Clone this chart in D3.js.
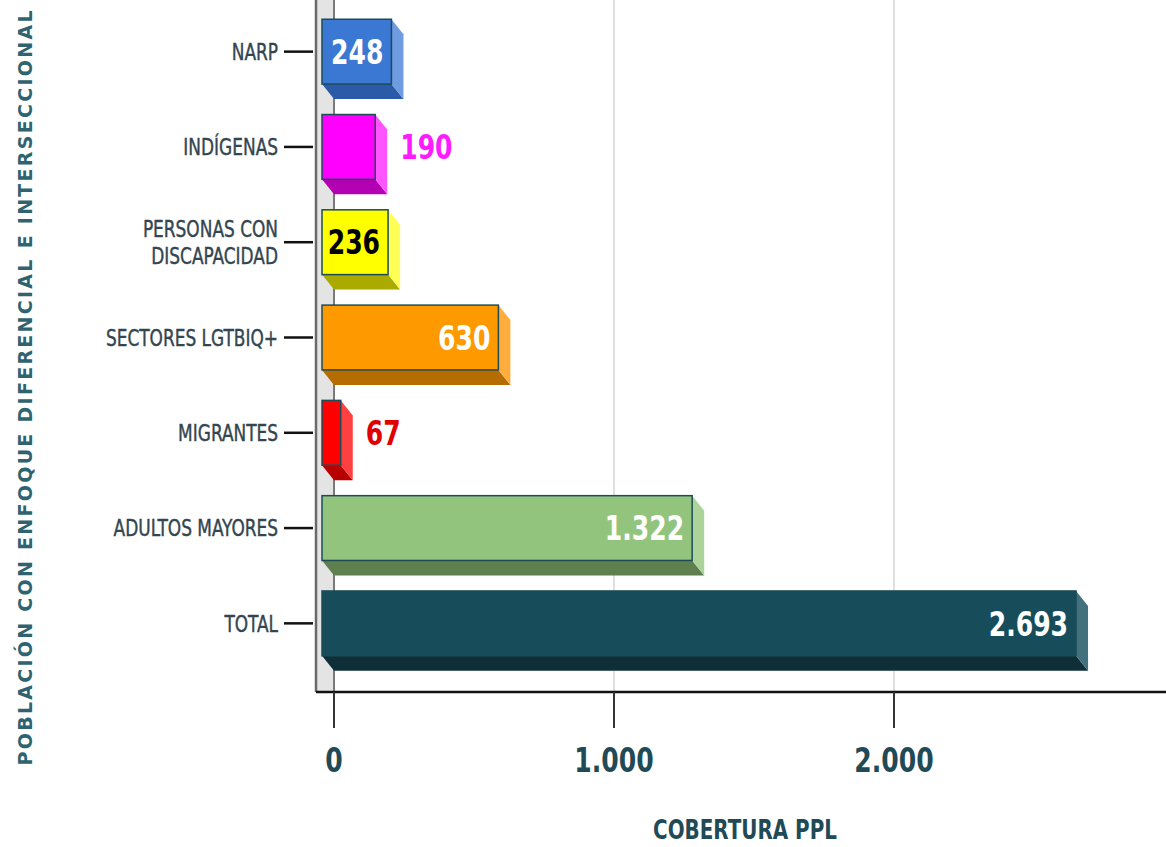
<!DOCTYPE html>
<html>
<head>
<meta charset="utf-8">
<script src="https://cdn.jsdelivr.net/npm/d3@7"></script>
<style>
	body { margin: 0; background: #fff; }
	text { font-family: "Liberation Sans Narrow", "Arial Narrow", "DejaVu Sans Condensed", sans-serif; }
</style>
</head>
<body>
<div id="container"></div>
<script>
// 1. Data
const categories = ["NARP", "INDÍGENAS", "PERSONAS CON\nDISCAPACIDAD", "SECTORES LGTBIQ+", "MIGRANTES", "ADULTOS MAYORES", "TOTAL"]
const values = [248, 190, 236, 630, 67, 1322, 2693]
const valueLabels = ["248", "190", "236", "630", "67", "1.322", "2.693"]
const labelInside = [true, false, true, true, false, true, true]
const frontColors = ["#3b78d3", "#ff00ff", "#ffff00", "#ff9900", "#ff0000", "#93c47d", "#174d5b"]
const sideColors = ["#6f9ce0", "#ff55ff", "#ffff55", "#ffae3d", "#ff4040", "#acd49a", "#42707c"]
const bottomColors = ["#2b5ba8", "#b300b3", "#aaaa00", "#b56c00", "#b80000", "#5f7f4f", "#0f2f38"]
const labelColors = ["#ffffff", "#ff1aff", "#000000", "#ffffff", "#e00000", "#ffffff", "#ffffff"]
const tickValues = [0, 1000, 2000, 3000]
const tickLabels = ["0", "1.000", "2.000"]

// 2. Dimensions
const width = 1166
const height = 847
const depth = { dx: 12, dy: 15 }
const plot = { left: 316, right: 1166, top: 0, bottom: 692 }
const squeeze = 0.82 // condensed look of the original font

const svg = d3.select("#container")
	.append("svg")
	.attr("width", width)
	.attr("height", height)

// 3. Scales
const x = d3.scaleLinear()
	.domain([0, 3000])
	.range([322, 1162])

const y = d3.scaleBand()
	.domain(categories)
	.range([4, 671])
	.paddingInner(0.32)
	.paddingOuter(0.16)

const at = (px, py) => `translate(${px},${py}) scale(${squeeze},1)`

// 4. Back wall + grid
svg.append("rect")
	.attr("x", plot.left)
	.attr("y", plot.top)
	.attr("width", x(0) + depth.dx - plot.left)
	.attr("height", plot.bottom - plot.top)
	.attr("fill", "#e4e4e4")

svg.selectAll(".grid")
	.data(tickValues)
	.join("line")
	.attr("class", "grid")
	.attr("x1", d => x(d) + depth.dx)
	.attr("x2", d => x(d) + depth.dx)
	.attr("y1", plot.top)
	.attr("y2", plot.bottom)
	.attr("stroke", d => d === 0 ? "#7a7a7a" : "#d4d4d4")
	.attr("stroke-width", d => d === 0 ? 2 : 1.5)

// 5. Bars
const bars = svg.selectAll(".bar")
	.data(values)
	.join("g")
	.attr("class", "bar")

bars.append("polygon")
	.attr("points", (d, i) => {
		const x0 = x(0), x1 = x(d), yb = y(categories[i]) + y.bandwidth()
		return [[x0, yb], [x1, yb], [x1 + depth.dx, yb + depth.dy], [x0 + depth.dx, yb + depth.dy]].join(" ")
	})
	.attr("fill", (d, i) => bottomColors[i])

bars.append("polygon")
	.attr("points", (d, i) => {
		const x1 = x(d), yt = y(categories[i]), yb = yt + y.bandwidth()
		return [[x1, yt], [x1 + depth.dx, yt + depth.dy], [x1 + depth.dx, yb + depth.dy], [x1, yb]].join(" ")
	})
	.attr("fill", (d, i) => sideColors[i])

bars.append("rect")
	.attr("x", x(0))
	.attr("y", (d, i) => y(categories[i]))
	.attr("width", d => x(d) - x(0))
	.attr("height", y.bandwidth())
	.attr("fill", (d, i) => frontColors[i])
	.attr("stroke", "#1d4b57")
	.attr("stroke-width", 1.5)

bars.append("text")
	.attr("transform", (d, i) => at(
		labelInside[i] ? x(d) - 8 : x(d) + 25,
		y(categories[i]) + y.bandwidth() / 2))
	.attr("dy", "0.36em")
	.attr("text-anchor", (d, i) => labelInside[i] ? "end" : "start")
	.attr("font-size", 34)
	.attr("font-weight", "bold")
	.attr("fill", (d, i) => labelColors[i])
	.text((d, i) => valueLabels[i])

// 6. Axes
svg.append("line")
	.attr("x1", plot.left)
	.attr("x2", plot.left)
	.attr("y1", plot.top)
	.attr("y2", plot.bottom)
	.attr("stroke", "#6a6a6a")
	.attr("stroke-width", 2.5)

svg.append("line")
	.attr("x1", plot.left)
	.attr("x2", plot.right)
	.attr("y1", plot.bottom)
	.attr("y2", plot.bottom)
	.attr("stroke", "#111")
	.attr("stroke-width", 2.5)

svg.selectAll(".xtick")
	.data(tickValues)
	.join("line")
	.attr("class", "xtick")
	.attr("x1", d => x(d) + depth.dx)
	.attr("x2", d => x(d) + depth.dx)
	.attr("y1", plot.bottom)
	.attr("y2", plot.bottom + 36)
	.attr("stroke", "#333")
	.attr("stroke-width", 2)

svg.selectAll(".xlabel")
	.data(tickLabels)
	.join("text")
	.attr("class", "xlabel")
	.attr("transform", (d, i) => at(x(tickValues[i]) + depth.dx, 760))
	.attr("dy", "0.36em")
	.attr("text-anchor", "middle")
	.attr("font-size", 34)
	.attr("font-weight", "bold")
	.attr("fill", "#1f4a56")
	.text(d => d)

svg.selectAll(".ytick")
	.data(categories)
	.join("line")
	.attr("class", "ytick")
	.attr("x1", 284)
	.attr("x2", plot.left - 3)
	.attr("y1", d => y(d) + y.bandwidth() / 2)
	.attr("y2", d => y(d) + y.bandwidth() / 2)
	.attr("stroke", "#111")
	.attr("stroke-width", 2.5)

const ylabels = svg.selectAll(".ylabel")
	.data(categories)
	.join("text")
	.attr("class", "ylabel")
	.attr("transform", d => at(278, y(d) + y.bandwidth() / 2))
	.attr("text-anchor", "end")
	.attr("font-size", 23)
	.attr("fill", "#33464f")
	.attr("stroke", "#33464f")
	.attr("stroke-width", 0.4)

ylabels.each(function (d) {
	const lines = d.split("\n")
	d3.select(this).selectAll("tspan")
		.data(lines)
		.join("tspan")
		.attr("x", 0)
		.attr("y", (l, j) => (j - (lines.length - 1) / 2) * 27)
		.attr("dy", "0.36em")
		.text(l => l)
})

// Axis titles
svg.append("text")
	.attr("transform", "translate(32,388) rotate(-90)")
	.attr("text-anchor", "middle")
	.style("font-family", "'DejaVu Sans', sans-serif")
	.attr("font-size", 19)
	.attr("font-weight", "bold")
	.attr("textLength", 755)
	.attr("lengthAdjust", "spacing")
	.attr("fill", "#2f6370")
	.text("POBLACIÓN CON ENFOQUE DIFERENCIAL E INTERSECCIONAL")

svg.append("text")
	.attr("transform", at(745, 829))
	.attr("dy", "0.36em")
	.attr("text-anchor", "middle")
	.attr("font-size", 27)
	.attr("font-weight", "bold")
	.attr("fill", "#1f4a56")
	.text("COBERTURA PPL")
</script>
</body>
</html>
